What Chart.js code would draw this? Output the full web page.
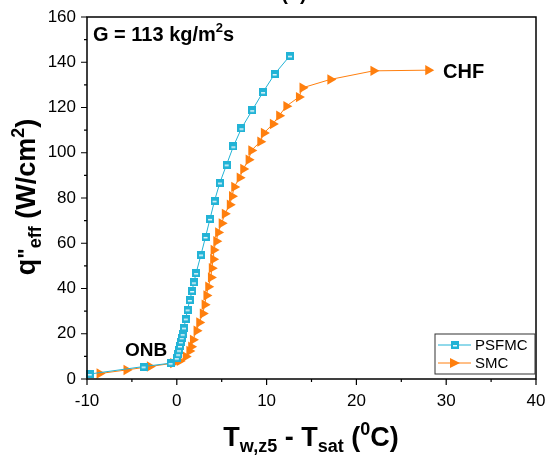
<!DOCTYPE html>
<html>
<head>
<meta charset="utf-8">
<script src="https://cdn.jsdelivr.net/npm/chart.js@4"></script>
<style>
  html, body { margin: 0; padding: 0; background: #fff; overflow: hidden; }
  #wrap { width: 547px; height: 456px; }
</style>
</head>
<body>
<div id="wrap"><canvas id="myChart" width="547" height="456"></canvas></div>
<script>
// data
const psfmcX = [-9.7, -3.7, -0.7, 0.0, 0.15, 0.25, 0.35, 0.45, 0.55, 0.65, 0.8, 1.0, 1.2, 1.45, 1.7, 1.9, 2.15, 2.7, 3.2, 3.7, 4.2, 4.8, 5.55, 6.3, 7.2, 8.4, 9.6, 10.9, 12.6];
const psfmcY = [2.2, 5.5, 7.0, 9.2, 10.9, 12.7, 14.6, 16.5, 18.3, 19.8, 22.7, 26.7, 30.7, 34.9, 38.9, 42.7, 46.8, 55.0, 62.8, 70.8, 78.8, 86.8, 94.8, 102.8, 110.8, 118.8, 126.8, 134.8, 142.9];
const smcX = [-8.6, -5.6, -3.0, -0.4, 0.33, 1.0, 1.4, 1.6, 1.8, 2.2, 2.5, 2.9, 3.1, 3.3, 3.5, 3.8, 3.9, 4.05, 4.1, 4.4, 4.6, 5.0, 5.35, 5.9, 6.15, 6.4, 7.0, 7.4, 8.0, 8.3, 9.3, 9.7, 10.7, 11.4, 12.2, 13.6, 14.0, 17.1, 21.9, 28.0];
const smcY = [2.4, 4.0, 5.5, 7.0, 8.0, 9.9, 12.4, 14.3, 17.3, 21.3, 25.0, 28.9, 32.8, 36.9, 40.8, 44.9, 49.0, 52.9, 57.0, 60.9, 64.8, 68.8, 73.0, 77.0, 80.8, 84.9, 89.0, 92.8, 96.9, 101.0, 104.9, 108.7, 112.7, 116.4, 120.6, 124.6, 128.7, 132.4, 136.2, 136.5];

const xTickVals = [-10, -5, 0, 5, 10, 15, 20, 25, 30, 35, 40];
const yTickVals = [0, 10, 20, 30, 40, 50, 60, 70, 80, 90, 100, 110, 120, 130, 140, 150, 160];

const cyan = '#22b3d6';
const orange = '#ff7f0e';
const FONT = '"Liberation Sans", Arial, sans-serif';

// square marker with a light band in the middle
function squareMarker() {
  const c = document.createElement('canvas');
  c.width = 8; c.height = 8;
  const g = c.getContext('2d');
  g.fillStyle = cyan;
  g.fillRect(0, 0, 8, 8);
  g.fillStyle = '#e8f7fb';
  g.fillRect(2, 4, 4, 1.5);
  return c;
}

function toPts(xs, ys) {
  return xs.map((x, i) => ({ x: x, y: ys[i] }));
}

// draws text made of pieces (normal / sub / sup)
function richText(g, parts, x, y, align) {
  let total = 0;
  parts.forEach(p => {
    g.font = 'bold ' + p.size + 'px ' + FONT;
    p.w = g.measureText(p.t).width;
    total += p.w;
  });
  let cx = align === 'center' ? x - total / 2 : x;
  parts.forEach(p => {
    g.font = 'bold ' + p.size + 'px ' + FONT;
    g.fillText(p.t, cx, y + (p.dy || 0));
    cx += p.w;
  });
}

const extras = {
  id: 'extras',
  afterDraw(chart) {
    const g = chart.ctx;
    const a = chart.chartArea;
    const xs = chart.scales.x, ys = chart.scales.y;
    g.save();

    // frame
    g.strokeStyle = '#000';
    g.lineWidth = 1.5;
    g.strokeRect(a.left, a.top, a.right - a.left, a.bottom - a.top);

    // outward ticks
    g.lineWidth = 1.2;
    g.beginPath();
    xTickVals.forEach(v => {
      const px = xs.getPixelForValue(v);
      const len = v % 10 === 0 ? 6 : 3;
      g.moveTo(px, a.bottom);
      g.lineTo(px, a.bottom + len);
    });
    yTickVals.forEach(v => {
      const py = ys.getPixelForValue(v);
      const len = v % 20 === 0 ? 6 : 3;
      g.moveTo(a.left, py);
      g.lineTo(a.left - len, py);
    });
    g.stroke();

    g.fillStyle = '#000';
    g.textBaseline = 'alphabetic';
    g.textAlign = 'left';

    // cut-off panel label at the top
    richText(g, [{ t: '(b)', size: 20 }], 294, 0, 'center');

    // annotations
    richText(g, [
      { t: 'G = 113 kg/m', size: 20 },
      { t: '2', size: 13, dy: -9 },
      { t: 's', size: 20 }
    ], 93, 41, 'left');
    richText(g, [{ t: 'CHF', size: 20 }], 443, 78, 'left');
    richText(g, [{ t: 'ONB', size: 19 }], 125, 356, 'left');

    // x axis title
    richText(g, [
      { t: 'T', size: 27 },
      { t: 'w,z5', size: 18, dy: 6 },
      { t: ' - T', size: 27 },
      { t: 'sat', size: 18, dy: 6 },
      { t: ' (', size: 27 },
      { t: '0', size: 18, dy: -11 },
      { t: 'C)', size: 27 }
    ], 311, 446, 'center');

    // y axis title
    g.save();
    g.translate(35, 197);
    g.rotate(-Math.PI / 2);
    richText(g, [
      { t: 'q', size: 27 },
      { t: '"', size: 22, dy: -2 },
      { t: 'eff', size: 18, dy: 6 },
      { t: ' (W/cm', size: 27 },
      { t: '2', size: 18, dy: -11 },
      { t: ')', size: 27 }
    ], 0, 0, 'center');
    g.restore();

    // legend box
    const lx = 435, ly = 334, lw = 100, lh = 40;
    g.fillStyle = '#fff';
    g.fillRect(lx, ly, lw, lh);
    g.strokeStyle = '#333';
    g.lineWidth = 1;
    g.strokeRect(lx, ly, lw, lh);
    const rows = [
      { label: 'PSFMC', color: cyan, y: ly + 11 },
      { label: 'SMC', color: orange, y: ly + 29 }
    ];
    rows.forEach((r, i) => {
      g.strokeStyle = r.color;
      g.lineWidth = 1;
      g.beginPath();
      g.moveTo(lx + 3, r.y);
      g.lineTo(lx + 36, r.y);
      g.stroke();
      if (i === 0) {
        g.drawImage(squareMarker(), lx + 16, r.y - 4);
      } else {
        g.fillStyle = orange;
        g.beginPath();
        g.moveTo(lx + 15, r.y - 5);
        g.lineTo(lx + 25, r.y);
        g.lineTo(lx + 15, r.y + 5);
        g.closePath();
        g.fill();
      }
      g.fillStyle = '#000';
      g.font = '15px ' + FONT;
      g.textBaseline = 'middle';
      g.fillText(r.label, lx + 40, r.y + 1);
    });

    g.restore();
  }
};

const ctx = document.getElementById('myChart').getContext('2d');
const myChart = new Chart(ctx, {
  type: 'scatter',
  data: {
    datasets: [
      {
        label: 'PSFMC',
        data: toPts(psfmcX, psfmcY),
        showLine: true,
        borderColor: cyan,
        borderWidth: 1,
        pointStyle: squareMarker(),
        pointRadius: 4,
        clip: false
      },
      {
        label: 'SMC',
        data: toPts(smcX, smcY),
        showLine: true,
        borderColor: orange,
        backgroundColor: orange,
        borderWidth: 1,
        pointStyle: 'triangle',
        rotation: 90,
        pointRadius: 6,
        pointBorderWidth: 0,
        clip: false
      }
    ]
  },
  options: {
    responsive: false,
    animation: false,
    layout: { padding: { top: 17, right: 11, left: 0, bottom: 0 } },
    plugins: {
      legend: { display: false },
      tooltip: { enabled: false }
    },
    scales: {
      x: {
        type: 'linear',
        min: -10,
        max: 40,
        afterBuildTicks: s => { s.ticks = xTickVals.map(v => ({ value: v })); },
        afterFit: s => {
          s.height = 77;
          s.paddingLeft = 0; s.paddingRight = 0;
        },
        grid: { drawOnChartArea: false, drawTicks: false },
        border: { display: false },
        ticks: {
          padding: 12,
          color: '#000',
          font: { family: FONT, size: 17 },
          maxRotation: 0,
          autoSkip: false,
          callback: v => (v % 10 === 0 ? v : '')
        }
      },
      y: {
        min: 0,
        max: 160,
        afterBuildTicks: s => { s.ticks = yTickVals.map(v => ({ value: v })); },
        afterFit: s => {
          s.width = 87;
          s.paddingTop = 0; s.paddingBottom = 0;
        },
        grid: { drawOnChartArea: false, drawTicks: false },
        border: { display: false },
        ticks: {
          padding: 11,
          color: '#000',
          font: { family: FONT, size: 17 },
          autoSkip: false,
          callback: v => (v % 20 === 0 ? v : '')
        }
      }
    }
  },
  plugins: [extras]
});
</script>
</body>
</html>
